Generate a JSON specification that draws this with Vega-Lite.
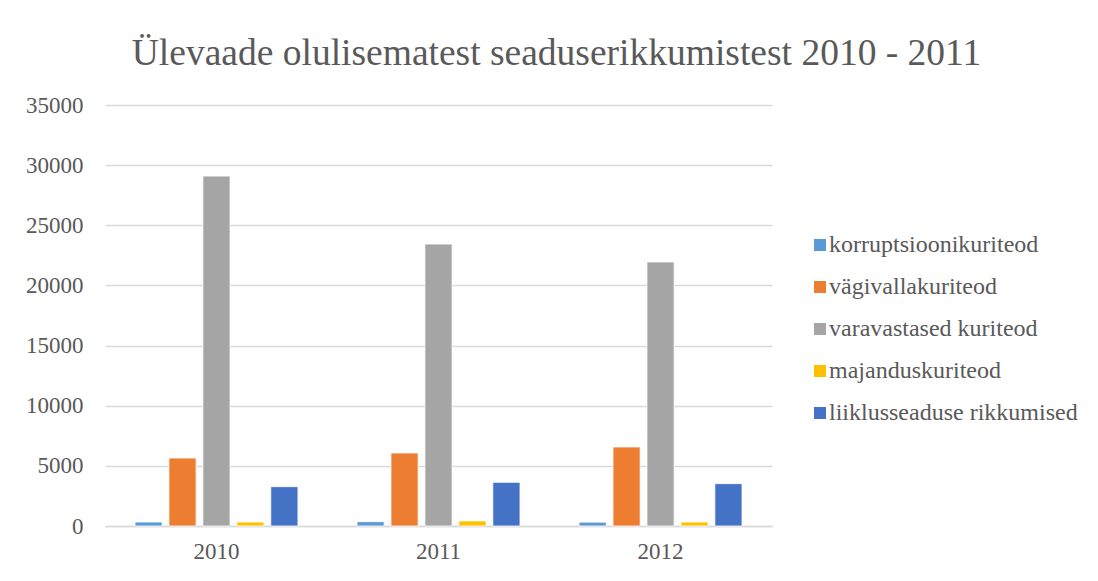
{
  "$schema": "https://vega.github.io/schema/vega-lite/v6.json",
  "autosize": {"type": "none"},
  "width": 667,
  "height": 421,
  "padding": {"left": 105, "top": 105, "right": 326, "bottom": 55},
  "background": "white",
  "title": {
    "text": "Ülevaade olulisematest seaduserikkumistest 2010 - 2011",
    "font": "Liberation Serif",
    "fontSize": 37.5,
    "fontWeight": "normal",
    "color": "#595959",
    "anchor": "middle",
    "frame": "group",
    "dx": 118,
    "offset": 0,
    "dy": -22
  },
  "data": {
    "values": [
      {"year": "2010", "type": "korruptsioonikuriteod", "value": 330},
      {"year": "2010", "type": "vägivallakuriteod", "value": 5650},
      {"year": "2010", "type": "varavastased kuriteod", "value": 29090},
      {"year": "2010", "type": "majanduskuriteod", "value": 330},
      {"year": "2010", "type": "liiklusseaduse rikkumised", "value": 3270},
      {"year": "2011", "type": "korruptsioonikuriteod", "value": 360},
      {"year": "2011", "type": "vägivallakuriteod", "value": 6070},
      {"year": "2011", "type": "varavastased kuriteod", "value": 23440},
      {"year": "2011", "type": "majanduskuriteod", "value": 420},
      {"year": "2011", "type": "liiklusseaduse rikkumised", "value": 3630},
      {"year": "2012", "type": "korruptsioonikuriteod", "value": 320},
      {"year": "2012", "type": "vägivallakuriteod", "value": 6570},
      {"year": "2012", "type": "varavastased kuriteod", "value": 21950},
      {"year": "2012", "type": "majanduskuriteod", "value": 330},
      {"year": "2012", "type": "liiklusseaduse rikkumised", "value": 3520}
    ]
  },
  "mark": {"type": "bar", "stroke": "white", "strokeWidth": 0.8},
  "encoding": {
    "x": {
      "field": "year", "type": "nominal",
      "scale": {"paddingInner": 0.266, "paddingOuter": 0.135},
      "axis": {
        "title": null, "labelAngle": 0, "labelFont": "Liberation Serif",
        "labelFontSize": 23, "labelColor": "#595959", "ticks": false,
        "labelPadding": 14, "domainColor": "#d9d9d9", "domainWidth": 1.5
      }
    },
    "xOffset": {
      "field": "type", "type": "nominal",
      "sort": ["korruptsioonikuriteod", "vägivallakuriteod", "varavastased kuriteod", "majanduskuriteod", "liiklusseaduse rikkumised"],
      "scale": {"paddingInner": 0.2, "paddingOuter": 0}
    },
    "y": {
      "field": "value", "type": "quantitative",
      "scale": {"domain": [0, 35000]},
      "axis": {
        "title": null, "values": [0, 5000, 10000, 15000, 20000, 25000, 30000, 35000],
        "format": "d", "labelFont": "Liberation Serif", "labelFontSize": 23,
        "labelColor": "#595959", "ticks": false, "domain": false,
        "labelPadding": 22, "gridColor": "#d9d9d9", "gridWidth": 1.5
      }
    },
    "color": {
      "field": "type", "type": "nominal",
      "sort": ["korruptsioonikuriteod", "vägivallakuriteod", "varavastased kuriteod", "majanduskuriteod", "liiklusseaduse rikkumised"],
      "scale": {"range": ["#5B9BD5", "#ED7D31", "#A5A5A5", "#FFC000", "#4472C4"]},
      "legend": {
        "title": null, "orient": "none", "legendX": 703, "legendY": 128,
        "symbolType": "square", "symbolSize": 144, "symbolStrokeWidth": 0,
        "labelFont": "Liberation Serif", "labelFontSize": 24, "labelColor": "#595959",
        "rowPadding": 18, "labelOffset": -3, "labelLimit": 400
      }
    }
  },
  "config": {"view": {"stroke": null}}
}
